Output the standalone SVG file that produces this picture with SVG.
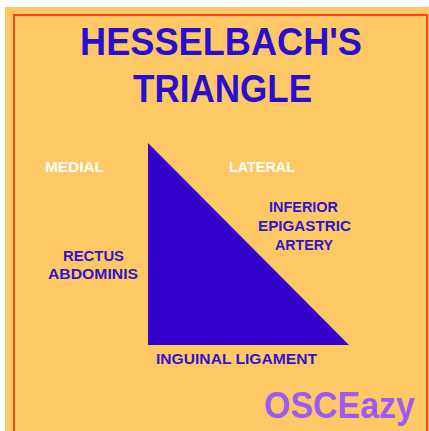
<svg xmlns="http://www.w3.org/2000/svg" width="429" height="431" viewBox="0 0 429 431">
<style>
.t{font-family:"Liberation Sans",Arial,sans-serif;font-weight:bold;}
.title{fill:#2A0ED0;font-size:39px;}
.lbl{fill:#3014CC;font-size:14px;}
.wht{fill:#FFFFFF;font-size:14px;}
.brand{fill:#9C5BF2;font-size:36px;}
</style>
<rect x="0" y="0" width="429" height="431" fill="#FFFFFF"/>
<rect x="5" y="7" width="424" height="424" fill="#FEC965"/>
<rect x="14" y="15" width="413" height="430" fill="none" stroke="#FF4025" stroke-width="2"/>
<g id="title">
<text class="t title" x="80" y="55" textLength="282" lengthAdjust="spacingAndGlyphs">HESSELBACH'S</text>
<text class="t title" x="133" y="102" textLength="179" lengthAdjust="spacingAndGlyphs">TRIANGLE</text>
</g>
<g id="triangle">
<polygon points="148,143 148,345 349,345" fill="#3300CC"/>
</g>
<g id="medial"><text class="t wht" x="45" y="172" textLength="59" lengthAdjust="spacingAndGlyphs">MEDIAL</text></g>
<g id="lateral"><text class="t wht" x="229" y="172" textLength="66" lengthAdjust="spacingAndGlyphs">LATERAL</text></g>
<g id="inferior-epigastric-artery">
<text class="t lbl" x="269" y="212" textLength="69" lengthAdjust="spacingAndGlyphs">INFERIOR</text>
<text class="t lbl" x="258" y="231" textLength="93" lengthAdjust="spacingAndGlyphs">EPIGASTRIC</text>
<text class="t lbl" x="275" y="250" textLength="58" lengthAdjust="spacingAndGlyphs">ARTERY</text>
</g>
<g id="rectus-abdominis">
<text class="t lbl" x="63" y="261" textLength="61" lengthAdjust="spacingAndGlyphs">RECTUS</text>
<text class="t lbl" x="48" y="279" textLength="90" lengthAdjust="spacingAndGlyphs">ABDOMINIS</text>
</g>
<g id="inguinal-ligament">
<text class="t lbl" x="156" y="364" textLength="161" lengthAdjust="spacingAndGlyphs">INGUINAL LIGAMENT</text>
</g>
<g id="brand">
<text class="t brand" x="264" y="418" textLength="151" lengthAdjust="spacingAndGlyphs">OSCEazy</text>
</g>
<g id="connectors"></g>
</svg>
